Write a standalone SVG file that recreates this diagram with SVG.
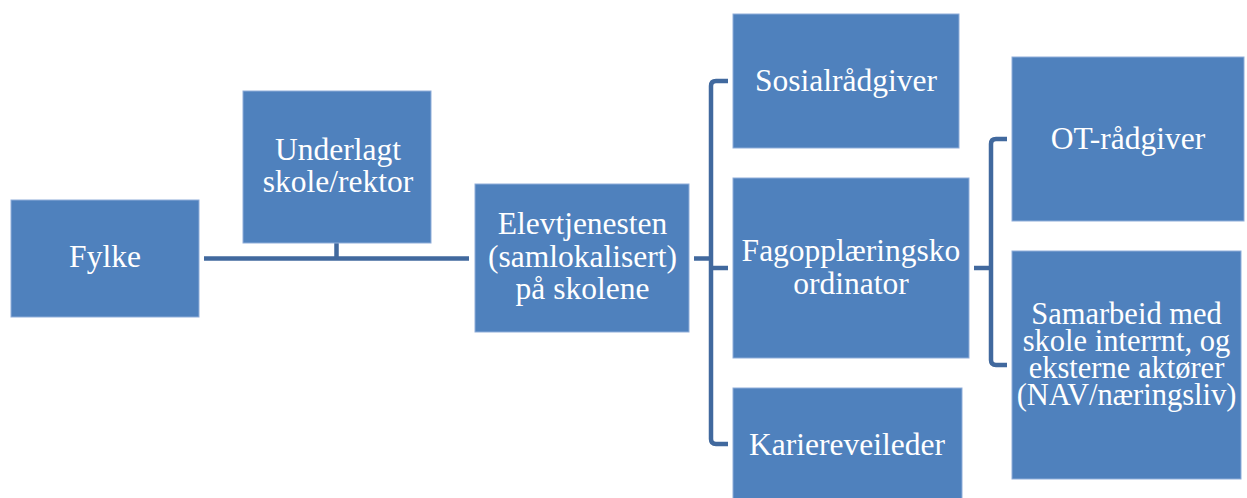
<svg xmlns="http://www.w3.org/2000/svg" width="1247" height="498" viewBox="0 0 1247 498">
<style>
.box{fill:#4f81bd;stroke:#8fadd9;stroke-width:1}
.t{font-family:"Liberation Serif","Times New Roman",serif;font-size:31.5px;fill:#ffffff;text-anchor:middle}
.ts{font-family:"Liberation Serif","Times New Roman",serif;font-size:30.5px;fill:#ffffff;text-anchor:middle}
.c{fill:none;stroke:#41699e;stroke-width:4.5;stroke-linejoin:round}
</style>
<rect width="1247" height="498" fill="#ffffff"/>
<g id="connectors">
<path class="c" d="M204,258.5 H469"/>
<path class="c" d="M336.5,243 V258.5"/>
<path class="c" d="M694,258.5 H711"/>
<path class="c" d="M728,81 H716 Q711,81 711,86 V439 Q711,444 716,444 H728"/>
<path class="c" d="M711,268 H728"/>
<path class="c" d="M974,268 H991"/>
<path class="c" d="M1007,139 H996 Q991,139 991,144 V360 Q991,365 996,365 H1007"/>
</g>
<g id="fylke">
<rect class="box" x="11" y="200" width="188" height="117"/>
<text class="t" x="105" y="267">Fylke</text>
</g>
<g id="underlagt">
<rect class="box" x="243" y="91" width="188" height="152"/>
<text class="t" x="338" y="160">Underlagt</text>
<text class="t" x="338" y="192">skole/rektor</text>
</g>
<g id="elevtjenesten">
<rect class="box" x="475" y="184" width="214" height="148"/>
<text class="t" x="582.5" y="234">Elevtjenesten</text>
<text class="t" x="582.5" y="267">(samlokalisert)</text>
<text class="t" x="582.5" y="299">på skolene</text>
</g>
<g id="sosialradgiver">
<rect class="box" x="733" y="14" width="226" height="134"/>
<text class="t" x="846" y="91">Sosialrådgiver</text>
</g>
<g id="fagopplaeringskoordinator">
<rect class="box" x="733" y="178" width="236" height="180"/>
<text class="t" x="851" y="261">Fagopplæringsko</text>
<text class="t" x="851" y="294">ordinator</text>
</g>
<g id="karriereveileder">
<rect class="box" x="733" y="388" width="229" height="114"/>
<text class="t" x="847" y="455">Kariereveileder</text>
</g>
<g id="ot-radgiver">
<rect class="box" x="1012" y="57" width="232" height="164"/>
<text class="t" x="1128" y="149">OT-rådgiver</text>
</g>
<g id="samarbeid">
<rect class="box" x="1012" y="251" width="229" height="228"/>
<text class="ts" x="1126.5" y="324">Samarbeid med</text>
<text class="ts" x="1126.5" y="351">skole interrnt, og</text>
<text class="ts" x="1126.5" y="378">eksterne aktører</text>
<text class="ts" x="1126.5" y="405">(NAV/næringsliv)</text>
</g>
</svg>
